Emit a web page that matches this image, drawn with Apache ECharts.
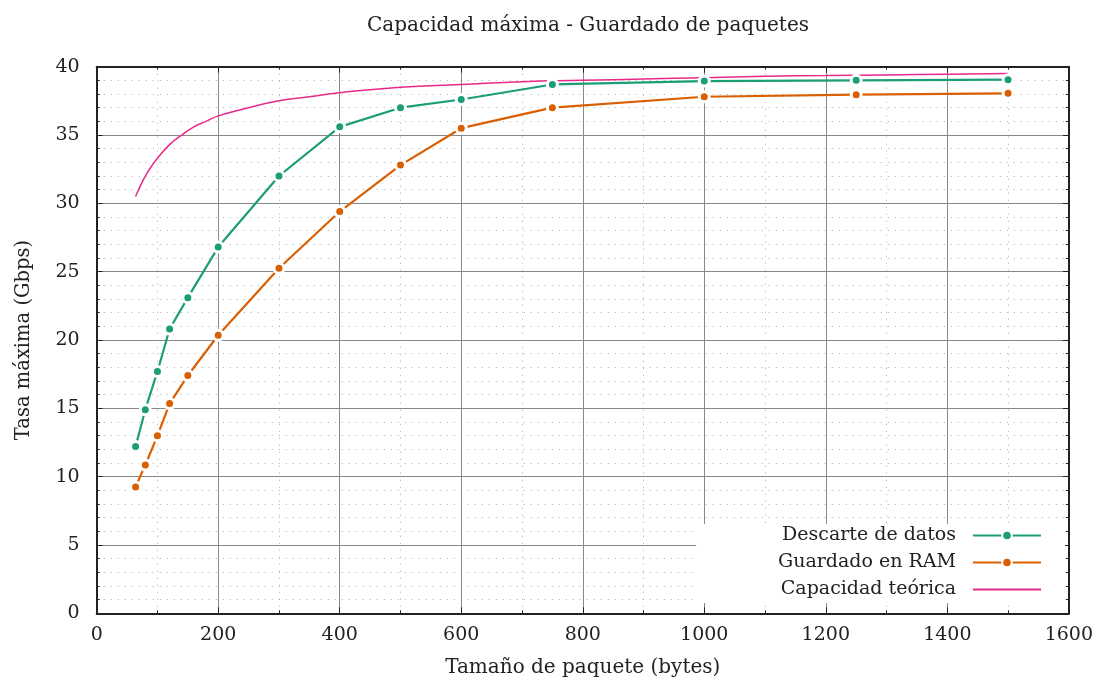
<!DOCTYPE html>
<html><head><meta charset="utf-8">
<script src="https://cdn.jsdelivr.net/npm/echarts@6/dist/echarts.min.js"></script>
<style>html,body{margin:0;padding:0;background:#fff}#c{width:1096px;height:686px}</style>
</head><body><div id="c"></div>
<script>
const title = 'Capacidad máxima - Guardado de paquetes';
const xName = 'Tamaño de paquete (bytes)';
const yName = 'Tasa máxima (Gbps)';
const seriesNames = ['Descarte de datos', 'Guardado en RAM', 'Capacidad teórica'];
const packetSizes = [64, 80, 100, 120, 150, 200, 300, 400, 500, 600, 750, 1000, 1250, 1500];
const descarte = [12.2, 14.9, 17.7, 20.8, 23.1, 26.8, 32.0, 35.6, 37.0, 37.6, 38.7, 38.95, 39.0, 39.05];
const guardado = [9.25, 10.85, 13.0, 15.35, 17.4, 20.35, 25.25, 29.4, 32.8, 35.5, 37.0, 37.8, 37.95, 38.05];
const teoricaX = [64, 70, 80, 90, 100, 120, 140, 160, 180, 200, 250, 300, 350, 400, 500, 600, 700, 800, 900, 1000, 1100, 1200, 1300, 1400, 1500];
const teoricaY = [30.5, 31.1, 32.0, 32.7, 33.3, 34.3, 35.0, 35.6, 36.0, 36.4, 37.0, 37.5, 37.8, 38.1, 38.5, 38.7, 38.9, 39.0, 39.1, 39.2, 39.3, 39.35, 39.4, 39.45, 39.5];
const xTicks = [0, 200, 400, 600, 800, 1000, 1200, 1400, 1600];
const yTicks = [0, 5, 10, 15, 20, 25, 30, 35, 40];

const FONT = 'DejaVu Serif';
const zip = (xs, ys) => xs.map((x, i) => [x, ys[i]]);
const minorLine = {show: true, lineStyle: {color: '#aaa', width: 1, type: [1, 6]}};
const majorLine = {show: true, lineStyle: {color: '#888', width: 1}};
const tickStyle = {color: '#222', width: 1};
const plain = v => String(v);

const chart = echarts.init(document.getElementById('c'), null, {renderer: 'canvas'});
const baseX = {
  type: 'value', min: xTicks[0], max: xTicks[xTicks.length - 1], interval: xTicks[1] - xTicks[0],
  axisLine: {show: true, onZero: false, lineStyle: {color: '#222', width: 2}},
  axisTick: {show: true, inside: true, length: 6, lineStyle: tickStyle},
  minorTick: {show: true, splitNumber: 2, length: 3, lineStyle: tickStyle},
};
const baseY = {
  type: 'value', min: yTicks[0], max: yTicks[yTicks.length - 1], interval: yTicks[1] - yTicks[0],
  axisLine: {show: true, onZero: false, lineStyle: {color: '#222', width: 2}},
  axisTick: {show: true, inside: true, length: 6, lineStyle: tickStyle},
  minorTick: {show: true, splitNumber: 5, length: 3, lineStyle: tickStyle},
};
const option = {
  backgroundColor: '#fff',
  animation: false,
  textStyle: {fontFamily: FONT},
  title: {text: title, left: 583, top: 11, textAlign: 'center',
    textStyle: {fontFamily: FONT, fontWeight: 'normal', fontSize: 20, color: '#222'}},
  grid: {left: 96.7, right: 26.5, top: 66.7, bottom: 72.7, containLabel: false},
  legend: {
    orient: 'vertical', right: 31, top: 524, align: 'right',
    itemWidth: 68, itemHeight: 12, itemGap: 8,
    backgroundColor: '#fff', padding: [2, 23, 4, 82],
    textStyle: {fontFamily: FONT, fontSize: 19, color: '#222', width: 210, align: 'right', padding: [0, 12, 0, 0]},
    data: [
      {name: seriesNames[0]},
      {name: seriesNames[1]},
      {name: seriesNames[2], itemStyle: {opacity: 0}}
    ]
  },
  xAxis: [
    Object.assign({}, baseX, {position: 'bottom',
      name: xName, nameLocation: 'middle', nameGap: 44,
      nameTextStyle: {fontFamily: FONT, fontSize: 20, color: '#222'},
      axisLabel: {show: true, margin: 12, fontFamily: FONT, fontSize: 19, color: '#222', formatter: plain},
      splitLine: majorLine, minorSplitLine: minorLine}),
    Object.assign({}, baseX, {position: 'top', axisLabel: {show: false}, splitLine: {show: false}})
  ],
  yAxis: [
    Object.assign({}, baseY, {position: 'left',
      name: yName, nameLocation: 'middle', nameGap: 63, nameRotate: 90,
      nameTextStyle: {fontFamily: FONT, fontSize: 19.5, color: '#222'},
      axisLabel: {show: true, margin: 17, fontFamily: FONT, fontSize: 19, color: '#222', formatter: plain},
      splitLine: majorLine, minorSplitLine: minorLine}),
    Object.assign({}, baseY, {position: 'right', axisLabel: {show: false}, splitLine: {show: false}})
  ],
  series: [
    {name: seriesNames[0], type: 'line', data: zip(packetSizes, descarte), color: '#1b9e77',
      lineStyle: {width: 2.2}, symbol: 'circle', symbolSize: 10,
      itemStyle: {color: '#1b9e77', borderColor: '#fff', borderWidth: 3}, z: 4},
    {name: seriesNames[1], type: 'line', data: zip(packetSizes, guardado), color: '#d95f02',
      lineStyle: {width: 2.2}, symbol: 'circle', symbolSize: 10,
      itemStyle: {color: '#d95f02', borderColor: '#fff', borderWidth: 3}, z: 4},
    {name: seriesNames[2], type: 'line', data: zip(teoricaX, teoricaY), color: '#e7298a',
      smooth: true, lineStyle: {width: 1.5}, symbol: 'none', showSymbol: false,
      itemStyle: {color: '#e7298a'}, z: 3}
  ]
};
chart.setOption(option);
</script></body></html>
